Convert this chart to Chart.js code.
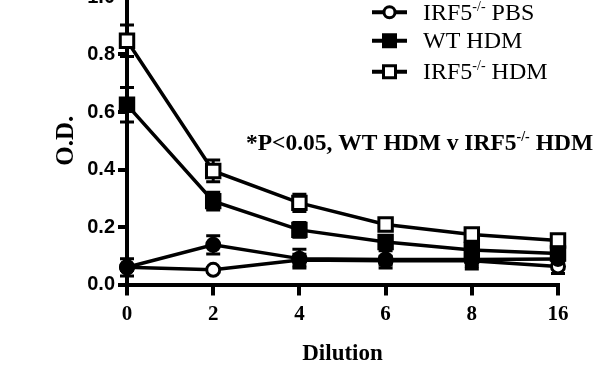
<!DOCTYPE html>
<html>
<head>
<meta charset="utf-8">
<script src="https://cdn.jsdelivr.net/npm/chart.js@4/dist/chart.umd.min.js"></script>
<style>
  html, body { margin: 0; padding: 0; background: #fff; overflow: hidden; }
  #wrap { position: absolute; left: 0; top: -40px; width: 599px; height: 420px; }
</style>
</head>
<body>
<div id="wrap"><canvas id="c" width="599" height="420"></canvas></div>
<script>
// ---- data ----
const dilutions = ['0', '2', '4', '6', '8', '16'];
const yTicks = [0.0, 0.2, 0.4, 0.6, 0.8, 1.0];

const wtPbs     = [0.060, 0.138, 0.090, 0.087, 0.087, 0.089];
const wtPbsErr  = [0.030, 0.032, 0.033, 0.030, 0.033, 0.022];
const irfPbs    = [0.060, 0.051, 0.085, 0.083, 0.083, 0.063];
const irfPbsErr = [0.010, 0.008, 0.020, 0.015, 0.020, 0.025];
const wtHdm     = [0.625, 0.290, 0.190, 0.148, 0.120, 0.108];
const wtHdmErr  = [0.060, 0.031, 0.026, 0.020, 0.020, 0.015];
const irfHdm    = [0.848, 0.395, 0.284, 0.209, 0.174, 0.153];
const irfHdmErr = [0.055, 0.038, 0.030, 0.012, 0.012, 0.012];

const seriesNames = ['WT PBS', 'IRF5-/- PBS', 'WT HDM', 'IRF5-/- HDM'];

const SHIFT = 40; // canvas is shifted up by this many px
const SERIF = "'Liberation Serif', 'Times New Roman', serif";
const SANS = "'Liberation Sans', Arial, sans-serif";

function ds(label, data, err, style, fill, radius) {
  return {
    label, data, err,
    borderColor: '#000', backgroundColor: fill,
    pointBackgroundColor: fill, pointBorderColor: '#000',
    pointStyle: style, pointRadius: radius, pointBorderWidth: 3,
    pointHoverRadius: radius, borderWidth: 3.5, tension: 0, clip: false
  };
}

const datasets = [
  ds(seriesNames[0], wtPbs, wtPbsErr, 'circle', '#000', 6.5),
  ds(seriesNames[1], irfPbs, irfPbsErr, 'circle', '#fff', 6.5),
  ds(seriesNames[2], wtHdm, wtHdmErr, 'rect', '#000', 9.5),
  ds(seriesNames[3], irfHdm, irfHdmErr, 'rect', '#fff', 9.5)
];

const errorBars = {
  id: 'errorBars',
  beforeDatasetsDraw(chart) {
    const ctx = chart.ctx, x = chart.scales.x, y = chart.scales.y;
    ctx.save();
    ctx.strokeStyle = '#000';
    ctx.lineWidth = 3;
    chart.data.datasets.forEach(d => {
      d.data.forEach((v, i) => {
        const e = d.err[i];
        const px = x.getPixelForValue(i);
        const y1 = y.getPixelForValue(v + e), y2 = y.getPixelForValue(v - e);
        ctx.beginPath();
        ctx.moveTo(px, y1); ctx.lineTo(px, y2);
        ctx.moveTo(px - 7, y1); ctx.lineTo(px + 7, y1);
        ctx.moveTo(px - 7, y2); ctx.lineTo(px + 7, y2);
        ctx.stroke();
      });
    });
    ctx.restore();
  }
};

function drawSupText(ctx, parts, x, baseline, bigFont, supFont, supRaise) {
  let cx = x;
  parts.forEach(p => {
    ctx.font = p.sup ? supFont : bigFont;
    ctx.fillText(p.t, cx, p.sup ? baseline - supRaise : baseline);
    cx += ctx.measureText(p.t).width;
  });
}

const annotations = {
  id: 'annotations',
  afterDraw(chart) {
    const ctx = chart.ctx;
    ctx.save();
    ctx.fillStyle = '#000';
    ctx.textBaseline = 'alphabetic';
    ctx.textAlign = 'left';
    // legend (first item lies above the visible crop)
    const legendY = [-17.5, 12.3, 40.7, 71.7];
    const styles = [['circle', '#000'], ['circle', '#fff'], ['rect', '#000'], ['rect', '#fff']];
    const texts = [
      [{t: 'WT PBS'}],
      [{t: 'IRF5'}, {t: '-/-', sup: true}, {t: ' PBS'}],
      [{t: 'WT HDM'}],
      [{t: 'IRF5'}, {t: '-/-', sup: true}, {t: ' HDM'}]
    ];
    legendY.forEach((sy, i) => {
      const cy = sy + SHIFT;
      ctx.strokeStyle = '#000';
      ctx.lineWidth = 4;
      ctx.beginPath(); ctx.moveTo(372, cy); ctx.lineTo(407, cy); ctx.stroke();
      ctx.lineWidth = 3;
      ctx.fillStyle = styles[i][1];
      ctx.beginPath();
      if (styles[i][0] === 'circle') ctx.arc(389.5, cy, 5.5, 0, Math.PI * 2);
      else ctx.rect(383.5, cy - 6, 12, 12);
      ctx.fill(); ctx.stroke();
      ctx.fillStyle = '#000';
      drawSupText(ctx, texts[i], 423, cy + 7.5, '24px ' + SERIF, '14px ' + SERIF, 9);
    });
    // significance note
    drawSupText(ctx,
      [{t: '*P<0.05, WT HDM v IRF5'}, {t: '-/-', sup: true}, {t: ' HDM'}],
      246, 150 + SHIFT, 'bold 23.5px ' + SERIF, 'bold 14px ' + SERIF, 9);
    ctx.restore();
  }
};

new Chart(document.getElementById('c'), {
  type: 'line',
  data: { labels: dilutions, datasets },
  plugins: [errorBars, annotations],
  options: {
    responsive: false,
    animation: false,
    events: [],
    layout: { padding: { left: 0, right: 41, top: 37, bottom: 0 } },
    plugins: { legend: { display: false }, tooltip: { enabled: false } },
    scales: {
      x: {
        type: 'category',
        offset: false,
        afterFit(s) { s.height = 420 - 324.5; },
        grid: { display: true, drawOnChartArea: false, drawTicks: true, tickLength: 11, lineWidth: 4, color: '#000' },
        border: { display: true, width: 4, color: '#000' },
        ticks: { color: '#000', padding: 6, font: { family: SERIF, size: 21, weight: 'bold' }, maxRotation: 0 },
        title: { display: true, text: 'Dilution', color: '#000', font: { family: SERIF, size: 23, weight: 'bold' }, padding: { top: 0, bottom: 12.3 } }
      },
      y: {
        type: 'linear',
        min: 0, max: 1.0,
        afterFit(s) { s.width = 127; },
        afterBuildTicks(s) { s.ticks = yTicks.map(v => ({ value: v })); },
        grid: { display: true, drawOnChartArea: false, drawTicks: true, tickLength: 9, lineWidth: 4, color: '#000' },
        border: { display: true, width: 4, color: '#000' },
        ticks: { color: '#000', padding: 3, font: { family: SANS, size: 20, weight: 'bold' }, callback: v => Number(v).toFixed(1) },
        title: { display: true, text: 'O.D.', color: '#000', font: { family: SERIF, size: 25, weight: 'bold' }, padding: { top: 52, bottom: 0 } }
      }
    }
  }
});
</script>
</body>
</html>
